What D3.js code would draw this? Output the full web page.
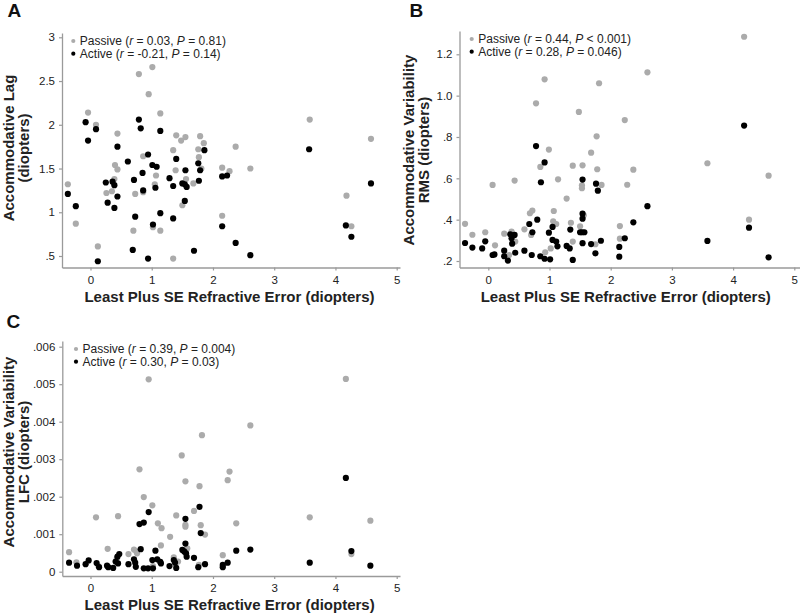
<!DOCTYPE html>
<html><head><meta charset="utf-8">
<script src="https://cdn.jsdelivr.net/npm/d3@7"></script>
<style>
html,body{margin:0;padding:0;background:#fff;}
svg{display:block;font-family:"Liberation Sans",Arial,sans-serif;}
</style></head>
<body>
<svg id="chart" width="800" height="615"></svg>
<script>
// ---------- DATA ----------
const xTicks = [0, 1, 2, 3, 4, 5];
const yTicksA = [0.5, 1, 1.5, 2, 2.5, 3];
const yTickLabelsA = [".5", "1", "1.5", "2", "2.5", "3"];
const yTicksB = [0.2, 0.4, 0.6, 0.8, 1.0, 1.2];
const yTickLabelsB = [".2", ".4", ".6", ".8", "1.0", "1.2"];
const yTicksC = [0, 0.001, 0.002, 0.003, 0.004, 0.005, 0.006];
const yTickLabelsC = ["0", ".001", ".002", ".003", ".004", ".005", ".006"];

const xTitle = "Least Plus SE Refractive Error (diopters)";
const yTitleA = ["Accommodative Lag", "(diopters)"];
const yTitleB = ["Accommodative Variability", "RMS (diopters)"];
const yTitleC = ["Accommodative Variability", "LFC (diopters)"];

const legendA = [["0.03", "=", "0.81"], ["-0.21", "=", "0.14"]];
const legendB = [["0.44", "<", "0.001"], ["0.28", "=", "0.046"]];
const legendC = [["0.39", "=", "0.004"], ["0.30", "=", "0.03"]];
const seriesNames = ["Passive", "Active"];

// Panel A: Accommodative lag (D)
const passiveA = [[-0.37,1.32],[-0.24,0.87],[-0.04,2.14],[0.09,2.00],[0.12,0.61],[0.44,1.90],[0.40,1.54],[0.44,1.49],[0.39,1.38],[0.35,1.24],[0.26,1.22],[0.73,1.21],[0.70,0.79],[0.86,1.64],[0.86,1.23],[0.79,2.58],[1.01,2.66],[0.95,2.35],[1.14,2.13],[1.07,1.42],[1.05,1.32],[1.02,0.83],[1.14,0.79],[1.35,1.71],[1.40,1.88],[1.48,1.82],[1.55,1.86],[1.39,1.48],[1.56,1.38],[1.50,1.08],[1.68,1.33],[1.79,1.87],[1.76,1.72],[1.77,1.63],[1.85,1.79],[1.81,1.50],[1.35,0.47],[2.15,1.51],[2.15,0.96],[2.27,1.47],[2.37,1.75],[2.61,1.50],[3.58,2.06],[4.58,1.84],[4.18,1.19],[4.26,0.84]];
const activeA = [[-0.37,1.21],[-0.24,1.07],[-0.08,2.03],[-0.04,1.82],[0.09,1.95],[0.12,0.44],[0.25,1.34],[0.28,1.11],[0.36,1.35],[0.39,1.31],[0.39,1.05],[0.44,1.18],[0.44,1.75],[0.61,1.58],[0.69,0.57],[0.71,1.37],[0.73,0.95],[0.79,2.06],[0.82,1.96],[0.85,1.45],[0.86,1.25],[0.94,1.66],[0.94,0.47],[1.01,1.54],[1.08,1.52],[1.06,1.28],[1.14,1.93],[1.14,0.99],[1.02,0.86],[1.29,1.39],[1.35,1.30],[1.35,0.93],[1.40,1.61],[1.55,1.48],[1.50,1.33],[1.54,1.32],[1.57,1.29],[1.54,1.13],[1.69,0.56],[1.76,1.56],[1.77,1.36],[1.79,1.48],[1.86,1.71],[2.15,1.41],[2.23,1.42],[2.15,0.84],[2.37,0.65],[2.61,0.51],[3.57,1.72],[4.58,1.33],[4.17,0.85],[4.26,0.72]];

// Panel B: Accommodative variability RMS (D)
const passiveB = [[-0.38,0.380],[-0.26,0.327],[-0.05,0.339],[0.07,0.568],[0.11,0.276],[0.26,0.332],[0.34,0.229],[0.38,0.342],[0.43,0.589],[0.44,0.294],[0.59,0.353],[0.68,0.431],[0.72,0.444],[0.70,0.326],[0.78,0.963],[0.85,0.655],[0.92,1.079],[0.93,0.242],[0.99,0.739],[1.02,0.261],[1.06,0.392],[1.07,0.442],[1.11,0.379],[1.14,0.595],[1.28,0.502],[1.35,0.385],[1.38,0.294],[1.38,0.661],[1.48,0.921],[1.50,0.368],[1.54,0.663],[1.53,0.566],[1.53,0.552],[1.56,0.421],[1.68,0.724],[1.75,0.281],[1.77,0.803],[1.78,0.644],[1.81,1.060],[1.85,0.568],[2.15,0.369],[2.15,0.308],[2.23,0.882],[2.27,0.569],[2.37,0.642],[2.60,1.113],[4.18,1.285],[3.58,0.673],[4.26,0.400],[4.58,0.613]];
const activeB = [[-0.38,0.287],[-0.26,0.265],[-0.10,0.261],[-0.05,0.295],[0.07,0.229],[0.10,0.232],[0.26,0.223],[0.26,0.250],[0.32,0.202],[0.36,0.329],[0.38,0.310],[0.39,0.284],[0.43,0.326],[0.44,0.240],[0.59,0.250],[0.67,0.379],[0.71,0.229],[0.72,0.339],[0.78,0.756],[0.80,0.400],[0.85,0.223],[0.86,0.581],[0.92,0.677],[0.92,0.211],[1.01,0.208],[0.99,0.337],[1.05,0.365],[1.05,0.302],[1.11,0.294],[1.13,0.271],[1.28,0.273],[1.33,0.261],[1.34,0.352],[1.38,0.205],[1.50,0.339],[1.54,0.429],[1.54,0.405],[1.54,0.594],[1.53,0.339],[1.57,0.339],[1.54,0.286],[1.68,0.282],[1.75,0.237],[1.76,0.574],[1.79,0.540],[1.84,0.298],[2.14,0.268],[2.14,0.221],[2.23,0.310],[2.37,0.387],[2.60,0.465],[4.18,0.855],[3.58,0.297],[4.26,0.361],[4.58,0.218]];

// Panel C: Accommodative variability LFC (D)
const passiveC = [[-0.35,0.00052],[-0.23,0.00025],[0.09,0.00145],[0.13,0.00015],[0.28,0.00061],[0.45,0.00148],[0.43,0.00036],[0.62,0.00047],[0.71,0.00059],[0.75,0.00054],[0.76,0.00049],[0.80,0.00273],[0.87,0.00199],[0.95,0.00513],[1.01,0.00177],[1.02,0.00015],[1.10,0.00129],[1.16,0.00116],[1.15,0.00070],[1.30,0.00093],[1.40,0.00150],[1.36,0.00038],[1.43,0.00027],[1.49,0.00310],[1.55,0.00241],[1.55,0.00125],[1.55,0.00120],[1.58,0.00062],[1.69,0.00162],[1.78,0.00228],[1.80,0.00124],[1.82,0.00364],[1.87,0.00099],[1.77,0.00018],[2.16,0.00044],[2.24,0.00244],[2.27,0.00267],[2.38,0.00129],[2.61,0.00390],[3.58,0.00145],[4.17,0.00514],[4.26,0.00047],[4.57,0.00136]];
const activeC = [[-0.35,0.00024],[-0.22,0.00016],[-0.08,0.00020],[-0.03,0.00030],[0.10,0.00023],[0.14,0.00012],[0.27,0.00016],[0.29,0.00012],[0.37,0.00010],[0.41,0.00027],[0.44,0.00040],[0.47,0.00047],[0.45,0.00022],[0.62,0.00020],[0.71,0.00033],[0.73,0.00024],[0.74,0.00013],[0.80,0.00127],[0.82,0.00060],[0.87,0.00131],[0.87,0.00009],[0.94,0.00009],[0.95,0.00159],[1.01,0.00031],[1.02,0.00009],[1.06,0.00056],[1.09,0.00033],[1.14,0.00026],[1.15,0.00022],[1.29,0.00015],[1.36,0.00031],[1.38,0.00024],[1.40,0.00010],[1.50,0.00058],[1.53,0.00054],[1.55,0.00141],[1.55,0.00075],[1.57,0.00040],[1.56,0.00049],[1.69,0.00037],[1.76,0.00012],[1.78,0.00173],[1.80,0.00103],[1.87,0.00020],[2.16,0.00018],[2.16,0.00012],[2.24,0.00024],[2.38,0.00056],[2.61,0.00059],[3.58,0.00024],[4.17,0.00250],[4.26,0.00055],[4.57,0.00016]];

// ---------- DRAWING ----------
const svg = d3.select("#chart");
const AXIS_COL = "#9a9a9a", TEXT_COL = "#222", GRAY = "#ababab";

function panel(cfg) {
  const g = svg.append("g");
  // scales anchored on tick positions, then extended to the plot frame
  const x0 = d3.scaleLinear().domain([0, 5]).range([cfg.x0px, cfg.x5px]);
  const x = d3.scaleLinear().domain([x0.invert(cfg.left), x0.invert(cfg.right)]).range([cfg.left, cfg.right]);
  const y0 = d3.scaleLinear().domain([cfg.yTicks[0], cfg.yTicks[cfg.yTicks.length - 1]]).range([cfg.yLoPx, cfg.yHiPx]);
  const y = d3.scaleLinear().domain([y0.invert(cfg.bottom), y0.invert(cfg.top)]).range([cfg.bottom, cfg.top]);

  const xAxis = g.append("g").attr("transform", `translate(0,${cfg.bottom})`)
    .call(d3.axisBottom(x).tickValues(xTicks).tickFormat(d3.format("d")).tickSize(3).tickSizeOuter(0).tickPadding(5));
  const yAxis = g.append("g").attr("transform", `translate(${cfg.left},0)`)
    .call(d3.axisLeft(y).tickValues(cfg.yTicks).tickFormat((d, i) => cfg.yLabels[i]).tickSize(3).tickSizeOuter(0).tickPadding(4));
  [xAxis, yAxis].forEach(a => {
    a.selectAll("path.domain").attr("stroke", AXIS_COL).attr("stroke-width", 1.3);
    a.selectAll(".tick line").attr("stroke", AXIS_COL).attr("stroke-width", 1.2);
    a.selectAll(".tick text").attr("fill", TEXT_COL).style("font-size", "11.5px").style("font-family", '"Liberation Sans",Arial,sans-serif');
  });

  // points
  g.append("g").selectAll("circle").data(cfg.passive).join("circle")
    .attr("cx", d => x(d[0])).attr("cy", d => y(d[1])).attr("r", 3.1).attr("fill", GRAY);
  g.append("g").selectAll("circle").data(cfg.active).join("circle")
    .attr("cx", d => x(d[0])).attr("cy", d => y(d[1])).attr("r", 3.1).attr("fill", "#000");

  // legend
  const lg = g.append("g").attr("transform", `translate(${cfg.left + cfg.legDx},${cfg.top + 8})`);
  cfg.legend.forEach((L, i) => {
    const row = lg.append("g").attr("transform", `translate(0,${i * 12.7})`);
    row.append("circle").attr("cx", 0).attr("cy", 0).attr("r", 2.1).attr("fill", i === 0 ? GRAY : "#000");
    const t = row.append("text").attr("x", 6.5).attr("y", 4.2).attr("fill", TEXT_COL).style("font-size", "12px");
    t.append("tspan").text(seriesNames[i] + " (");
    t.append("tspan").attr("font-style", "italic").text("r");
    t.append("tspan").text(" = " + L[0] + ", ");
    t.append("tspan").attr("font-style", "italic").text("P");
    t.append("tspan").text(" " + L[1] + " " + L[2] + ")");
  });

  // axis titles
  g.append("text").attr("x", (cfg.left + cfg.xTitleRight) / 2).attr("y", cfg.bottom + 34)
    .attr("text-anchor", "middle").attr("font-weight", "bold").style("font-size", "15px").attr("fill", TEXT_COL).text(xTitle);
  cfg.yTitle.forEach((s, i) => {
    g.append("text").attr("transform", `translate(${cfg.ytX + i * 15},${cfg.ytY}) rotate(-90)`)
      .attr("text-anchor", "middle").attr("font-weight", "bold").style("font-size", "15px").attr("fill", TEXT_COL).text(s);
  });
  // panel letter
  g.append("text").attr("x", cfg.letX).attr("y", cfg.letY).attr("font-weight", "bold")
    .style("font-size", "19px").attr("fill", "#111").text(cfg.letter);
}

panel({letter: "A", letX: 7.5, letY: 16.5,
  left: 62, right: 400, top: 33, bottom: 267.5, x0px: 90.5, x5px: 396.7,
  yTicks: yTicksA, yLabels: yTickLabelsA, yLoPx: 256, yHiPx: 37.3,
  passive: passiveA, active: activeA, legend: legendA, legDx: 11.3,
  yTitle: yTitleA, ytX: 13.5, ytY: 148, xTitleRight: 397});

panel({letter: "B", letX: 409.5, letY: 16.5,
  left: 459.5, right: 800, top: 31, bottom: 267.5, x0px: 488.3, x5px: 794.3,
  yTicks: yTicksB, yLabels: yTickLabelsB, yLoPx: 261, yHiPx: 54.3,
  passive: passiveB, active: activeB, legend: legendB, legDx: 12.2,
  yTitle: yTitleB, ytX: 414, ytY: 150, xTitleRight: 792});

panel({letter: "C", letX: 6.5, letY: 328,
  left: 62.3, right: 400, top: 341, bottom: 576, x0px: 90.5, x5px: 396.7,
  yTicks: yTicksC, yLabels: yTickLabelsC, yLoPx: 571.7, yHiPx: 346.7,
  passive: passiveC, active: activeC, legend: legendC, legDx: 13.7,
  yTitle: yTitleC, ytX: 13.5, ytY: 452, xTitleRight: 397});
</script>
</body></html>
